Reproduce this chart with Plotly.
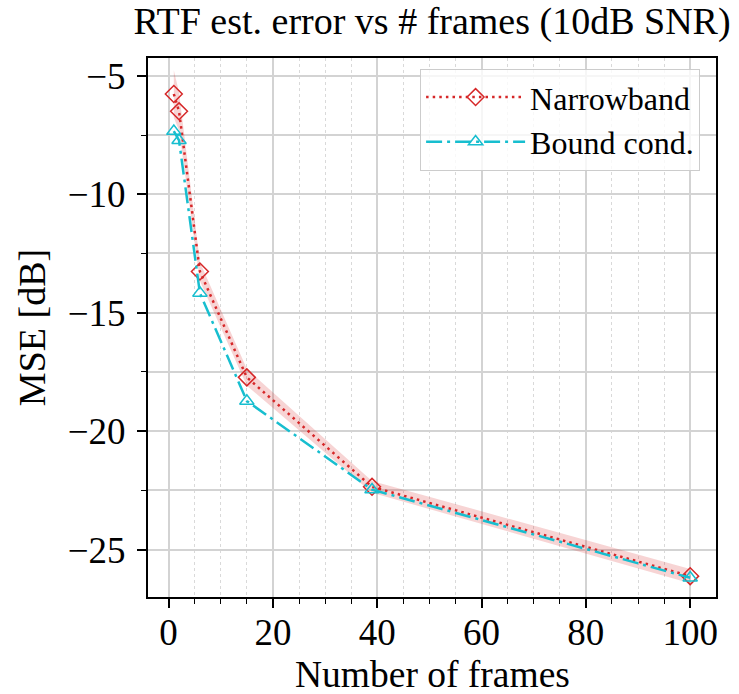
import plotly.graph_objects as go

# Data
frames = [1, 2, 6, 15, 39, 100]
narrowband_mse = [-5.77, -6.50, -13.26, -17.73, -22.35, -26.12]
narrowband_std = [1.00, 0.80, 0.40, 0.35, 0.25, 0.30]
bound_mse = [-7.34, -7.73, -14.17, -18.73, -22.47, -26.19]

series_names = ["Narrowband", "Bound cond."]
title_text = "RTF est. error vs # frames (10dB SNR)"
x_label = "Number of frames"
y_label = "MSE [dB]"

RED = "#d62728"
CYAN = "#17becf"
FONT = "Liberation Serif"

upper = [m + s for m, s in zip(narrowband_mse, narrowband_std)]
lower = [m - s for m, s in zip(narrowband_mse, narrowband_std)]

fig = go.Figure()

fig.add_trace(go.Scatter(x=frames, y=upper, mode="lines", line=dict(width=0),
                         showlegend=False, hoverinfo="skip"))
fig.add_trace(go.Scatter(x=frames, y=lower, mode="lines", line=dict(width=0),
                         fill="tonexty", fillcolor="rgba(214,39,40,0.2)",
                         showlegend=False, hoverinfo="skip"))

fig.add_trace(go.Scatter(
    x=frames, y=narrowband_mse, mode="lines+markers", name=series_names[0],
    line=dict(color=RED, width=2.5, dash="2.5px,4.1px"),
    marker=dict(symbol="diamond-open", size=13, color=RED,
                line=dict(color=RED, width=1.5)),
))
fig.add_trace(go.Scatter(
    x=frames, y=bound_mse, mode="lines+markers", name=series_names[1],
    line=dict(color=CYAN, width=2.5, dash="16px,5px,3px,5px"),
    marker=dict(symbol="triangle-up-open", size=12.5, color=CYAN,
                line=dict(color=CYAN, width=1.5)),
))

axis_common = dict(
    showline=True, linecolor="black", linewidth=2, mirror=True,
    ticks="outside", ticklen=9, tickwidth=1.5, tickcolor="black",
    showgrid=True, gridcolor="#d3d3d3", gridwidth=1.5,
    zeroline=False, automargin=False,
    tickfont=dict(family=FONT, size=37, color="black"),
)

fig.update_xaxes(
    range=[-3.95, 104.95], tick0=0, dtick=20, ticklabelstandoff=-7,
    minor=dict(ticks="outside", ticklen=5, tickwidth=1, tickcolor="black", dtick=5,
               showgrid=True, gridcolor="#d9d9d9", griddash="dot", gridwidth=1),
    **axis_common,
)
fig.update_yaxes(
    range=[-27.0, -4.25], tick0=0, dtick=5, ticklabelstandoff=4,
    title=dict(text=y_label, font=dict(family=FONT, size=38, color="black"), standoff=10),
    minor=dict(ticks="outside", ticklen=5, tickwidth=1, tickcolor="black", dtick=2.5,
               showgrid=True, gridcolor="#d3d3d3", gridwidth=1.5),
    **axis_common,
)

# x-axis title placed as annotation so it can sit close to the bottom edge
fig.add_annotation(text=x_label, xref="paper", yref="paper", x=0.5, y=0,
                   xanchor="center", yanchor="middle", yshift=-77, showarrow=False,
                   font=dict(family=FONT, size=37.5, color="black"))

fig.update_layout(
    width=739, height=694,
    margin=dict(l=148, r=23, t=58, b=97),
    paper_bgcolor="white", plot_bgcolor="white",
    title=dict(text=title_text, font=dict(family=FONT, size=38, color="black"),
               x=0.5, xref="paper", xanchor="center",
               y=1 - 21 / 694, yref="container", yanchor="middle"),
    legend=dict(x=0.972, y=0.98, xanchor="right", yanchor="top",
                traceorder="normal",
                bgcolor="rgba(255,255,255,0.8)", bordercolor="#cccccc", borderwidth=1,
                font=dict(family=FONT, size=32, color="black"),
                itemwidth=99, tracegroupgap=4),
    showlegend=True,
)

fig.write_html("out.html")
